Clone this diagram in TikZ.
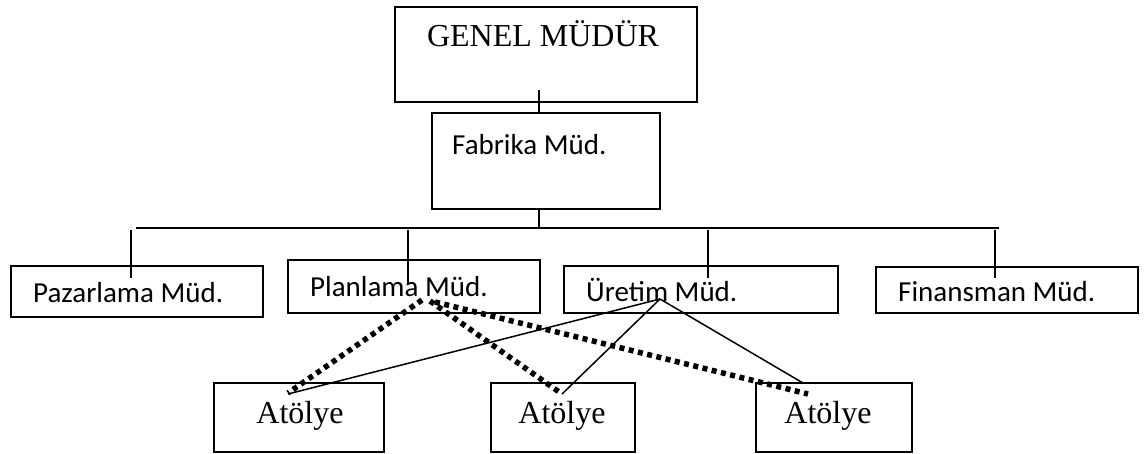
\documentclass[tikz,border=0pt]{standalone}
\usepackage{fontspec}
\setmainfont{Liberation Serif}
\newfontfamily\calibri{Carlito}
\usetikzlibrary{calc}
\begin{document}
\begin{tikzpicture}[x=1pt,y=-1pt,
  box/.style={draw,line width=1.7pt,inner sep=0pt,outer sep=0pt,anchor=north west},
  serif/.style={font=\fontsize{32}{38}\selectfont,inner sep=0pt,anchor=base},
  sans/.style={font=\calibri\fontsize{29}{35}\selectfont,inner sep=0pt,anchor=base west},
  link/.style={line width=1.5pt},
  staff/.style={line width=5.5pt,dash pattern=on 5pt off 4.5pt}]
\useasboundingbox[fill=white] (0,0) rectangle (1146,454);

% management boxes
\node[box,minimum width=302pt,minimum height=95pt] (genel) at (395,7) {};
\node[box,minimum width=228pt,minimum height=96pt] (fab) at (432,113) {};
\node[box,minimum width=252pt,minimum height=51pt] (paz) at (11,266) {};
\node[box,minimum width=252pt,minimum height=53pt] (plan) at (288,260) {};
\node[box,minimum width=274pt,minimum height=47pt] (uret) at (564,266) {};
\node[box,minimum width=262pt,minimum height=46pt] (fin) at (876,267) {};

% workshop boxes
\node[box,minimum width=170pt,minimum height=69pt] (at1) at (214,383) {};
\node[box,minimum width=144pt,minimum height=69pt] (at2) at (491,383) {};
\node[box,minimum width=156pt,minimum height=69pt] (at3) at (756,383) {};

% labels
\node[serif] (genelT) at (543,47) {GENEL MÜDÜR};
\node[sans] (fabT) at (452,155) {Fabrika Müd.};
\node[sans] (pazT) at (33,303) {Pazarlama Müd.};
\node[sans] (planT) at (310,297) {Planlama Müd.};
\node[sans] (uretT) at (586,302) {Üretim Müd.};
\node[sans] (finT) at (898,302) {Finansman Müd.};
\node[serif] (at1T) at (300,423) {Atölye};
\node[serif] (at2T) at (562,423) {Atölye};
\node[serif] (at3T) at (828,423) {Atölye};

% hierarchy lines
\coordinate (busL) at (136,228);
\coordinate (busR) at (999,228);
\draw[link] (busL) -- (busR);
\draw[link] ($(fab.north west)+(107,-23)$) -- ($(fab.north west)+(107,0)$);
\draw[link] ($(fab.south west)+(107,0)$) -- ($(fab.south west)+(107,19)$);
\draw[link] ($(paz.north west)+(120,-36)$) -- ($(paz.north west)+(120,12)$);
\draw[link] ($(plan.north west)+(120,-30)$) -- ($(plan.north west)+(120,25)$);
\draw[link] ($(uret.north west)+(144,-36)$) -- ($(uret.north west)+(144,12)$);
\draw[link] ($(fin.north west)+(119,-37)$) -- ($(fin.north west)+(119,11)$);

% line authority from production
\coordinate (uA) at ($(uret.south west)+(96,-14)$);
\draw[link] (uA) -- ($(at1.north west)+(74,11)$);
\draw[link] (uA) -- ($(at2.north west)+(71,11)$);
\draw[link] (uA) -- ($(at3.north west)+(47,0)$);

% functional authority from planning
\coordinate (pA) at ($(plan.south west)+(134,-13)$);
\coordinate (pB) at ($(plan.south west)+(142,-12)$);
\coordinate (pC) at ($(plan.south west)+(147,-11)$);
\draw[staff] (pA) -- ($(at1.north west)+(74,10)$);
\draw[staff] (pB) -- ($(at2.north west)+(71,11)$);
\draw[staff] (pC) -- ($(at3.north west)+(52,11)$);
\end{tikzpicture}
\end{document}
